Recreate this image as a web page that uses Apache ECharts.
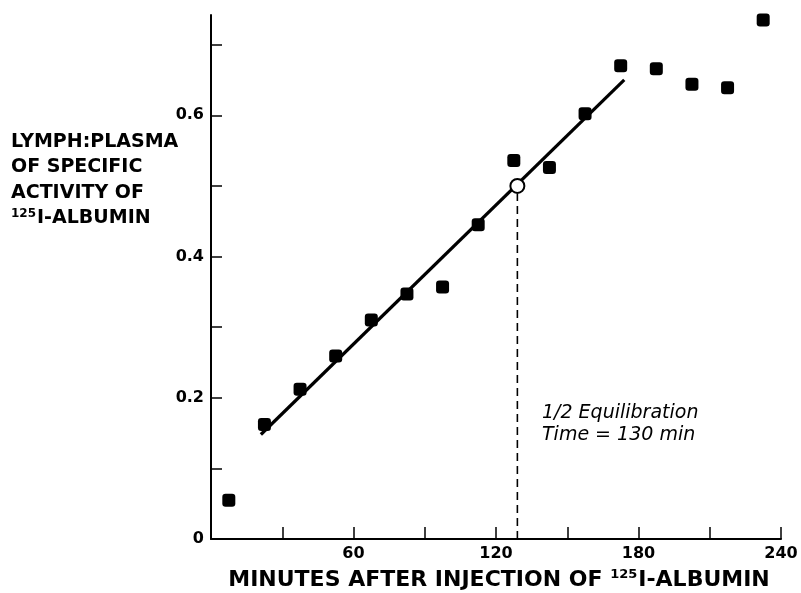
<!DOCTYPE html>
<html>
<head>
<meta charset="utf-8">
<script src="https://cdn.jsdelivr.net/npm/echarts@6/dist/echarts.min.js"></script>
<style>html,body{margin:0;padding:0;background:#fff}#c{width:801px;height:593px}</style>
</head>
<body>
<div id="c"></div>
<script>
// Data
const minutes = [7.5, 22.5, 37.5, 52.5, 67.5, 82.5, 97.5, 112.5, 127.5, 142.5, 157.5, 172.5, 187.5, 202.5, 217.5, 232.5];
const ratio = [0.055, 0.162, 0.212, 0.259, 0.310, 0.347, 0.357, 0.445, 0.536, 0.526, 0.602, 0.670, 0.666, 0.644, 0.639, 0.735];
const fitLineX = [21, 174];
const fitLineY = [0.148, 0.650];
const halfTime = 129;
const halfValue = 0.5;
const xTicks = [30, 60, 90, 120, 150, 180, 210, 240];
const xTickLabels = [60, 120, 180, 240];
const yTicks = [0.1, 0.2, 0.3, 0.4, 0.5, 0.6, 0.7];
const yTickLabels = [0, 0.2, 0.4, 0.6];

const font = 'DejaVu Sans';
const chart = echarts.init(document.getElementById('c'));
chart.setOption({
  animation: false,
  backgroundColor: '#fff',
  grid: {left: 211, right: 20, top: 15, bottom: 54},
  xAxis: {
    type: 'value', min: 0, max: 240,
    axisLine: {lineStyle: {color: '#000', width: 2}},
    axisTick: {inside: true, length: 12, lineStyle: {color: '#000', width: 1.5}, customValues: xTicks},
    axisLabel: {customValues: xTickLabels, color: '#000', fontFamily: font, fontSize: 16, fontWeight: 'bold', margin: 7},
    splitLine: {show: false}
  },
  yAxis: {
    type: 'value', min: 0, max: 0.742,
    axisLine: {show: true, lineStyle: {color: '#000', width: 2}},
    axisTick: {show: true, inside: true, length: 11, lineStyle: {color: '#000', width: 1.5}, customValues: yTicks},
    axisLabel: {customValues: yTickLabels, color: '#000', fontFamily: font, fontSize: 16, fontWeight: 'bold', margin: 7,
      formatter: v => v === 0 ? '0' : v.toFixed(1)},
    splitLine: {show: false}
  },
  series: [
    {
      type: 'line', data: [[halfTime, 0], [halfTime, halfValue - 0.011]],
      symbol: 'none', lineStyle: {color: '#000', width: 1.6, type: [8, 5]}, z: 1
    },
    {
      type: 'line', data: fitLineX.map((x, i) => [x, fitLineY[i]]),
      symbol: 'none', lineStyle: {color: '#000', width: 3.2}, z: 2
    },
    {
      type: 'scatter', data: minutes.map((m, i) => [m, ratio[i]]),
      symbol: 'roundRect', symbolSize: 13, itemStyle: {color: '#000', opacity: 1}, z: 3
    },
    {
      type: 'scatter', data: [[halfTime, halfValue]],
      symbol: 'circle', symbolSize: 14,
      itemStyle: {color: '#fff', borderColor: '#000', borderWidth: 2, opacity: 1}, z: 4
    }
  ],
  graphic: [
    {
      type: 'text', left: 11, top: 129,
      style: {
        text: 'LYMPH:PLASMA\nOF SPECIFIC\nACTIVITY OF\n{s|125}I-ALBUMIN',
        fontFamily: font, fontSize: 19, fontWeight: 'bold', fill: '#000', lineHeight: 25.5,
        rich: {s: {fontSize: 12, fontFamily: font, fontWeight: 'bold', lineHeight: 25.5, padding: [0, 1, 9, 0]}}
      }
    },
    {
      type: 'text', x: 499, y: 580,
      style: {
        text: 'MINUTES AFTER INJECTION OF {s|125}I-ALBUMIN',
        fontFamily: font, fontSize: 22, fontWeight: 'bold', fill: '#000', align: 'center', verticalAlign: 'middle', lineHeight: 26,
        rich: {s: {fontSize: 13, fontFamily: font, fontWeight: 'bold', padding: [0, 1, 11, 0]}}
      }
    },
    {
      type: 'text', left: 542, top: 402,
      style: {
        text: '1/2 Equilibration\nTime = 130 min',
        fontFamily: font, fontSize: 19, fontStyle: 'italic', fill: '#000', lineHeight: 22
      }
    }
  ]
});
</script>
</body>
</html>
